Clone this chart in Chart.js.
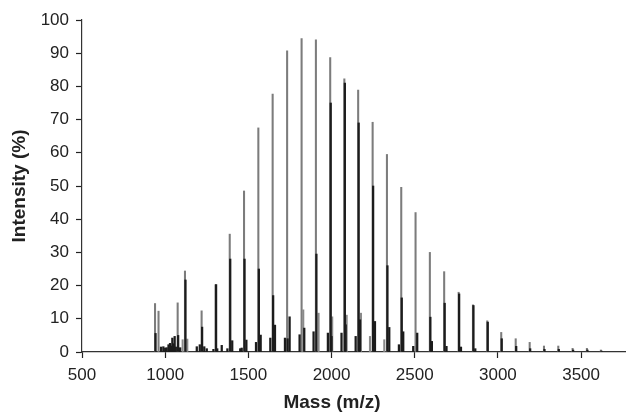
<!DOCTYPE html>
<html>
<head>
<title>Mass spectrum</title>
<script src="https://cdn.jsdelivr.net/npm/chart.js@4.4.1/dist/chart.umd.min.js"></script>
<style>
  body { margin: 0; background: #fff; }
  #container { width: 626px; height: 412px; }
</style>
</head>
<body>
<div id="container"><canvas id="canvas"></canvas></div>
<script>

// main (tall, grey) peaks of the series
var mainMass = [939, 960, 1075, 1119, 1219, 1303, 1388, 1474, 1560, 1646, 1733, 1820, 1906, 1992, 2077, 2160, 2247, 2333, 2419, 2505, 2591, 2677, 2764, 2850, 2936, 3020, 3107, 3191, 3277, 3363, 3449, 3535, 3619];
var mainInt  = [14.6, 12.3, 14.8, 24.4, 12.4, 20.3, 35.5, 48.5, 67.5, 77.7, 90.7, 94.4, 94.0, 88.7, 82.3, 78.9, 69.2, 59.5, 49.6, 42.0, 30.0, 24.2, 18.0, 14.2, 9.4, 5.9, 4.0, 2.9, 1.8, 1.8, 1.1, 1.1, 0.6];

// darker peaks sitting on the main ones
var darkMass = [942, 1078, 1122, 1222, 1306, 1391, 1477, 1563, 1649, 1736, 1909, 1995, 2080, 2163, 2250, 2336, 2422, 2594, 2680, 2767, 2853, 2939, 3023, 3110, 3194, 3280, 3366, 3452, 3538, 3622];
var darkInt  = [5.6, 5.0, 21.7, 7.5, 20.3, 28.0, 28.0, 25.0, 17.0, 4.0, 29.5, 75.0, 81.0, 69.0, 50.0, 26.0, 16.3, 10.5, 14.7, 17.5, 14.0, 9.0, 4.0, 1.7, 1.0, 0.8, 0.8, 0.6, 0.6, 0.3];

// small dark side peaks
var minorMass = [975, 989, 1000, 1009, 1020, 1029, 1036, 1043, 1050, 1057, 1064, 1090, 1190, 1208, 1235, 1250, 1290, 1313, 1340, 1374, 1403, 1451, 1460, 1488, 1546, 1574, 1632, 1660, 1720, 1748, 1808, 1836, 1892, 1978, 2000, 2060, 2085, 2145, 2171, 2261, 2347, 2405, 2431, 2491, 2515, 2603, 2691, 2778, 2864];
var minorInt  = [1.5, 1.6, 1.2, 1.3, 2.2, 2.6, 1.8, 4.2, 2.5, 4.7, 1.5, 1.3, 1.6, 2.2, 1.6, 1.0, 0.8, 1.0, 2.0, 1.0, 3.4, 1.0, 1.2, 3.6, 2.9, 5.1, 4.2, 8.1, 4.2, 10.6, 5.2, 7.2, 6.1, 5.7, 4.7, 5.7, 8.2, 4.7, 9.7, 9.2, 7.4, 2.2, 6.1, 1.7, 5.7, 3.2, 1.7, 1.5, 1.0];

// small grey side peaks
var sideMass = [1105, 1133, 1830, 1922, 2004, 2091, 2177, 2231, 2317];
var sideInt  = [3.7, 3.9, 12.7, 11.7, 10.6, 11.1, 11.7, 4.7, 3.7];

var xTicks = [500, 1000, 1500, 2000, 2500, 3000, 3500];

function toPoints(xs, ys) {
  var pts = [];
  for (var i = 0; i < xs.length; i++) {
    pts.push({ x: xs[i], y: ys[i] });
  }
  return pts;
}

function plainLabel(value) { return String(value); }

var tickFont = { family: "'Liberation Sans', Arial, sans-serif", size: 17 };
var titleFont = { family: "'Liberation Sans', Arial, sans-serif", size: 19, weight: 'bold' };

// x axis title is drawn by hand, it is not centred on the plot
var xTitlePlugin = {
  id: 'xTitle',
  afterDraw: function(chart) {
    var ctx = chart.ctx;
    ctx.save();
    ctx.font = "bold 19px 'Liberation Sans', Arial, sans-serif";
    ctx.fillStyle = '#222';
    ctx.textAlign = 'center';
    ctx.textBaseline = 'middle';
    ctx.fillText('Mass (m/z)', 332, 403);
    ctx.restore();
  }
};

var ctx = document.getElementById('canvas').getContext('2d');
window.myChart = new Chart(ctx, {
  type: 'bar',
  data: {
    datasets: [
      { label: 'minor', data: toPoints(minorMass, minorInt), backgroundColor: '#1c1c1c', barThickness: 1.6 },
      { label: 'dark', data: toPoints(darkMass, darkInt), backgroundColor: '#1c1c1c', barThickness: 1.6 },
      { label: 'side', data: toPoints(sideMass, sideInt), backgroundColor: '#8a8a8a', barThickness: 1.4 },
      { label: 'main', data: toPoints(mainMass, mainInt), backgroundColor: '#7c7c7c', barThickness: 1.4 }
    ]
  },
  options: {
    responsive: true,
    maintainAspectRatio: false,
    animation: false,
    datasets: { bar: { grouped: false } },
    layout: { padding: { top: 20, right: 0, bottom: 0, left: 0 } },
    plugins: {
      legend: { display: false },
      tooltip: { enabled: false }
    },
    scales: {
      x: {
        type: 'linear',
        offset: false,
        min: 500,
        max: 3770,
        afterBuildTicks: function(scale) {
          scale.ticks = xTicks.map(function(v) { return { value: v }; });
        },
        afterFit: function(scale) { scale.height = 60; },
        ticks: { font: tickFont, color: '#222', padding: 7, autoSkip: false, maxRotation: 0, callback: plainLabel },
        grid: { display: true, offset: false, drawOnChartArea: false, drawTicks: true, tickLength: 6, color: '#222', tickColor: '#222', tickWidth: 1.2, lineWidth: 1 },
        border: { display: true, color: '#333', width: 1.2 }
      },
      y: {
        min: 0,
        max: 100,
        afterFit: function(scale) { scale.width = 82; },
        ticks: { stepSize: 10, font: tickFont, color: '#222', padding: 7, callback: plainLabel },
        grid: { display: true, drawOnChartArea: false, drawTicks: true, tickLength: 6, color: '#222', tickColor: '#222', tickWidth: 1.2, lineWidth: 1 },
        border: { display: true, color: '#333', width: 1.2 },
        title: { display: true, text: 'Intensity (%)', font: titleFont, color: '#222', padding: { top: 8, bottom: 0 } }
      }
    }
  },
  plugins: [xTitlePlugin]
});

</script>
</body>
</html>
